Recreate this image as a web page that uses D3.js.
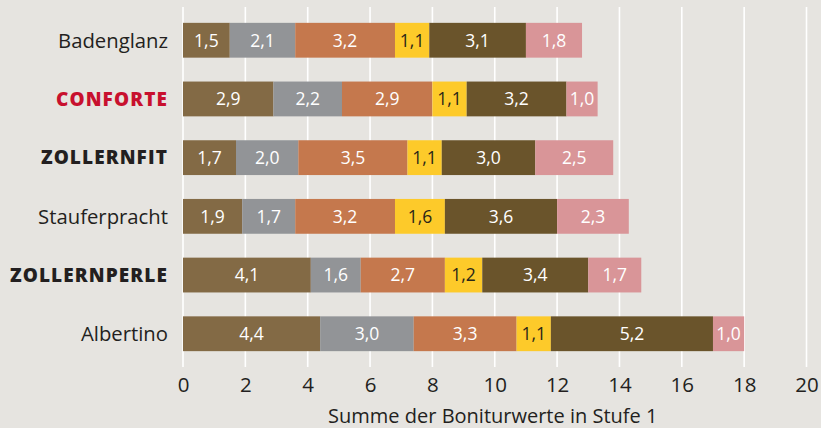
<!DOCTYPE html>
<html>
<head>
<meta charset="utf-8">
<script src="https://cdn.jsdelivr.net/npm/d3@7"></script>
<style>
  html, body { margin: 0; padding: 0; background: #e6e4e0; }
  svg { display: block; font-family: "Open Sans", "Noto Sans", sans-serif; }
</style>
</head>
<body>
<div id="chart"></div>
<script>
// sorts, top to bottom
var sorts = ['Badenglanz', 'CONFORTE', 'ZOLLERNFIT', 'Stauferpracht', 'ZOLLERNPERLE', 'Albertino'];
// label style per sort: normal, red, bold
var sortStyle = ['normal', 'red', 'bold', 'normal', 'bold', 'normal'];

// six stacked segments per bar (left to right)
var segments = ['t1', 't2', 't3', 't4', 't5', 't6'];
var segColors = ['#836a45', '#929497', '#c5784d', '#fdca2a', '#6a542b', '#d99598'];
var segText = ['#fff', '#fff', '#fff', '#2a2618', '#fff', '#fff'];

var t1 = [1.5, 2.9, 1.7, 1.9, 4.1, 4.4];
var t2 = [2.1, 2.2, 2.0, 1.7, 1.6, 3.0];
var t3 = [3.2, 2.9, 3.5, 3.2, 2.7, 3.3];
var t4 = [1.1, 1.1, 1.1, 1.6, 1.2, 1.1];
var t5 = [3.1, 3.2, 3.0, 3.6, 3.4, 5.2];
var t6 = [1.8, 1.0, 2.5, 2.3, 1.7, 1.0];

var xTicks = [0, 2, 4, 6, 8, 10, 12, 14, 16, 18, 20];
var xTitle = 'Summe der Boniturwerte in Stufe 1';

var width = 821, height = 428;
var margin = {top: 7, right: 14, bottom: 61, left: 183};
var graphWidth = width - margin.left - margin.right;
var graphHeight = height - margin.top - margin.bottom;

var rows = sorts.map(function(s, i) {
    return {sort: s, t1: t1[i], t2: t2[i], t3: t3[i], t4: t4[i], t5: t5[i], t6: t6[i]};
});
var stacked = d3.stack().keys(segments)(rows);

var svg = d3.select('#chart').append('svg')
    .attr('width', width)
    .attr('height', height);

var g = svg.append('g')
    .attr('transform', 'translate(' + margin.left + ',' + margin.top + ')');

var x = d3.scaleLinear().domain([0, 20]).range([0, graphWidth - 0.5]);
var y = d3.scaleBand().domain(sorts).range([0, graphHeight]).paddingInner(0.407).paddingOuter(0.27);

// grid lines
g.append('g').selectAll('line')
    .data(xTicks)
    .join('line')
    .attr('x1', function(d) { return x(d); })
    .attr('x2', function(d) { return x(d); })
    .attr('y1', 0)
    .attr('y2', graphHeight)
    .attr('stroke', '#ffffff')
    .attr('stroke-width', 1.6);

// bars
var layer = g.append('g').selectAll('g.layer')
    .data(stacked)
    .join('g')
    .attr('class', 'layer');

layer.each(function(l, li) {
    var lg = d3.select(this);
    lg.selectAll('rect')
        .data(l)
        .join('rect')
        .attr('x', function(d) { return x(d[0]); })
        .attr('y', function(d) { return y(d.data.sort); })
        .attr('width', function(d) { return x(d[1]) - x(d[0]); })
        .attr('height', y.bandwidth())
        .attr('fill', segColors[li]);

    lg.selectAll('text')
        .data(l)
        .join('text')
        .attr('x', function(d) { return (x(d[0]) + x(d[1])) / 2; })
        .attr('y', function(d) { return y(d.data.sort) + y.bandwidth() / 2; })
        .attr('dy', '0.36em')
        .attr('text-anchor', 'middle')
        .attr('font-size', 17.5)
        .attr('fill', segText[li])
        .text(function(d) { return d3.format('.1f')(d[1] - d[0]).replace('.', ','); });
});

// category labels
g.append('g').selectAll('text')
    .data(sorts)
    .join('text')
    .attr('x', -15)
    .attr('y', function(d) { return y(d) + y.bandwidth() / 2; })
    .attr('dy', '0.36em')
    .attr('text-anchor', 'end')
    .attr('font-size', function(d, i) { return sortStyle[i] === 'normal' ? 20.3 : 19; })
    .attr('font-weight', function(d, i) { return sortStyle[i] === 'normal' ? 400 : 800; })
    .attr('letter-spacing', function(d, i) { return sortStyle[i] === 'normal' ? 0 : 1.1; })
    .attr('fill', function(d, i) { return sortStyle[i] === 'red' ? '#c8102e' : '#231f20'; })
    .text(function(d) { return d; });

// x axis
var xAxis = d3.axisBottom(x).tickValues(xTicks).tickSize(0).tickPadding(10);
var axisG = g.append('g')
    .attr('transform', 'translate(0,' + graphHeight + ')')
    .call(xAxis);
axisG.select('.domain').remove();
axisG.selectAll('text')
    .attr('font-size', 20.5)
    .attr('font-family', '"Open Sans", sans-serif')
    .attr('fill', '#231f20');

g.append('text')
    .attr('x', x(10) - 2)
    .attr('y', graphHeight + 56)
    .attr('text-anchor', 'middle')
    .attr('font-size', 20)
    .attr('fill', '#231f20')
    .text(xTitle);
</script>
</body>
</html>
